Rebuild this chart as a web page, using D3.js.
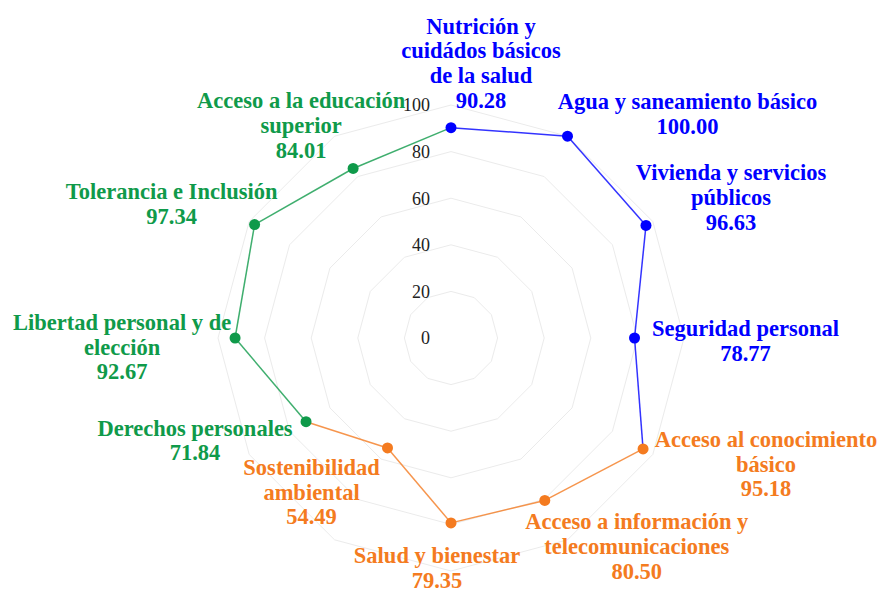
<!DOCTYPE html>
<html>
<head>
<meta charset="utf-8">
<script src="https://cdn.jsdelivr.net/npm/d3@7/dist/d3.min.js"></script>
<style>
  body { margin: 0; background: #fff; }
  #chart-holder { width: 879px; height: 592px; }
</style>
</head>
<body>
<div id="chart-holder"></div>
<script>
// Chart data (clockwise from the top)
var categories = [
  ["Nutrición y", "cuidádos básicos", "de la salud"],
  ["Agua y saneamiento básico"],
  ["Vivienda y servicios", "públicos"],
  ["Seguridad personal"],
  ["Acceso al conocimiento", "básico"],
  ["Acceso a información y", "telecomunicaciones"],
  ["Salud y bienestar"],
  ["Sostenibilidad", "ambiental"],
  ["Derechos personales"],
  ["Libertad personal y de", "elección"],
  ["Tolerancia e Inclusión"],
  ["Acceso a la educación", "superior"]
];
var values = [90.28, 100.00, 96.63, 78.77, 95.18, 80.50, 79.35, 54.49, 71.84, 92.67, 97.34, 84.01];
var groups = [0, 0, 0, 0, 1, 1, 1, 1, 2, 2, 2, 2];
var tickValues = [0, 20, 40, 60, 80, 100];

// label offsets from each point (first line centre)
var labelOffset = [
  [30, -102], [120, -35], [85, -53], [111, -10],
  [123, -10], [92, 21], [-14, 32], [-76, 19],
  [-111, 6], [-113, -16], [-83, -33], [-52, -68]
];

var colors = ["#0000ff", "#f47b20", "#0f9a4a"];

var width = 879, height = 592;
var cx = 451, cy = 338;
var n = values.length;

var svg = d3.select("#chart-holder")
  .append("svg")
  .attr("width", width)
  .attr("height", height);

var r = d3.scaleLinear().domain([0, 100]).range([0, 233]);
var angle = d3.scaleLinear().domain([0, n]).range([0, 2 * Math.PI]);

function pt(i, v) {
  var a = angle(i);
  return [cx + r(v) * Math.sin(a), cy - r(v) * Math.cos(a)];
}

var g = svg.append("g");

// grid rings
g.selectAll(".ring")
  .data(tickValues.filter(function(t) { return t > 0; }))
  .enter()
  .append("polygon")
  .attr("class", "ring")
  .attr("points", function(t) {
    return d3.range(n).map(function(i) { return pt(i, t).join(","); }).join(" ");
  })
  .attr("fill", "none")
  .attr("stroke", "#ebebeb")
  .attr("stroke-width", 1);

// segments, coloured by the group they start in
g.selectAll(".seg")
  .data(d3.range(n))
  .enter()
  .append("line")
  .attr("class", "seg")
  .attr("x1", function(i) { return pt(i, values[i])[0]; })
  .attr("y1", function(i) { return pt(i, values[i])[1]; })
  .attr("x2", function(i) { return pt((i + 1) % n, values[(i + 1) % n])[0]; })
  .attr("y2", function(i) { return pt((i + 1) % n, values[(i + 1) % n])[1]; })
  .attr("stroke", function(i) { return colors[groups[i]]; })
  .attr("stroke-opacity", 0.8)
  .attr("stroke-width", 1.5);

// dots
g.selectAll(".dot")
  .data(d3.range(n))
  .enter()
  .append("circle")
  .attr("class", "dot")
  .attr("cx", function(i) { return pt(i, values[i])[0]; })
  .attr("cy", function(i) { return pt(i, values[i])[1]; })
  .attr("r", 5.5)
  .attr("fill", function(i) { return colors[groups[i]]; });

// category labels with values
var labels = g.selectAll(".label")
  .data(d3.range(n))
  .enter()
  .append("text")
  .attr("class", "label")
  .attr("text-anchor", "middle")
  .attr("font-family", "'Liberation Serif', 'Times New Roman', serif")
  .attr("font-weight", "bold")
  .attr("font-size", 22.5)
  .attr("fill", function(i) { return colors[groups[i]]; });

labels.each(function(i) {
  var p = pt(i, values[i]);
  var x = p[0] + labelOffset[i][0];
  var y0 = p[1] + labelOffset[i][1];
  var lines = categories[i].concat([values[i].toFixed(2)]);
  d3.select(this).selectAll("tspan")
    .data(lines)
    .enter()
    .append("tspan")
    .attr("x", x)
    .attr("y", function(d, k) { return y0 + k * 24.8; })
    .attr("dy", "0.35em")
    .text(function(d) { return d; });
});

// tick labels (drawn on top)
g.selectAll(".tick")
  .data(tickValues)
  .enter()
  .append("text")
  .attr("class", "tick")
  .attr("x", cx - 21)
  .attr("y", function(t) { return cy - r(t); })
  .attr("dy", "0.35em")
  .attr("text-anchor", "end")
  .attr("font-family", "'Liberation Serif', 'Times New Roman', serif")
  .attr("font-size", 18)
  .attr("fill", "#222")
  .text(function(t) { return t; });
</script>
</body>
</html>
